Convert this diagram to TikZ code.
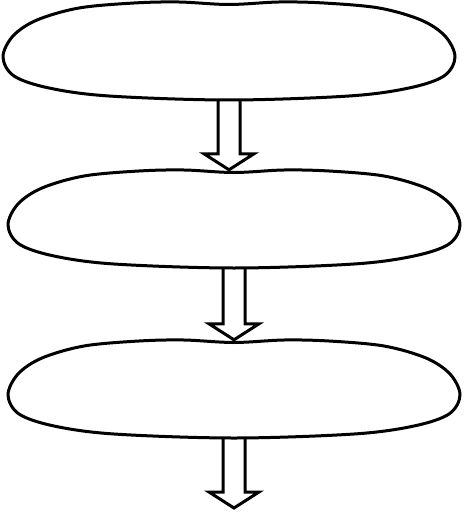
\documentclass[tikz,border=0pt]{standalone}
\usetikzlibrary{calc}

\tikzset{
  blob/.style={minimum width=452pt, minimum height=98pt, inner sep=0pt},
  blobline/.style={line width=3pt, line join=round},
  arrowline/.style={line width=3pt, fill=white}
}

% hollow block arrow from #1 down to #2
\newcommand\flowarrow[2]{%
  \draw[arrowline] let \p1=(#1), \p2=(#2) in
    (\x1-11pt,\y1) -- (\x1-11pt,\y2+16pt) -- (\x1-25pt,\y2+16pt) -- (\x1,\y2)
    -- (\x1+25pt,\y2+16pt) -- (\x1+11pt,\y2+16pt) -- (\x1+11pt,\y1);}

% outline of a step round node #1
\newcommand\blobdraw[1]{%
  \draw[blobline, shift={(#1.center)}] plot[smooth cycle, tension=0.55] coordinates {
    (-226,6) (-216,-15) (-192,-31) (-150,-43) (-95,-48) (-50,-49) (0,-46.5)
    (50,-49) (95,-48) (150,-43) (192,-31) (216,-15) (226,6)
    (215,25) (180,37) (120,45) (0,49) (-120,45) (-180,37) (-215,25)};}

\begin{document}
\begin{tikzpicture}[x=1pt, y=-1pt]

  \useasboundingbox (0,0) rectangle (463,513);

  \node[blob] (b1) at (229,51) {};
  \node[blob] (b2) at (234,219) {};
  \node[blob] (b3) at (234,389) {};
  \coordinate (end) at (234,508);

  \flowarrow{b1.south}{b1.south |- b2.north}
  \flowarrow{b2.south}{b3.north}
  \flowarrow{b3.south}{end}

  \blobdraw{b1}
  \blobdraw{b2}
  \blobdraw{b3}

\end{tikzpicture}
\end{document}
